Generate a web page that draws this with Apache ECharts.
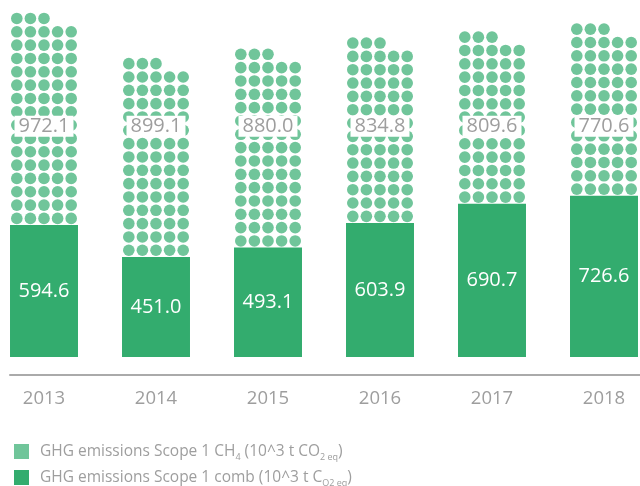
<!DOCTYPE html>
<html>
<head>
<meta charset="utf-8">
<script src="https://cdn.jsdelivr.net/npm/echarts@6/dist/echarts.min.js"></script>
<style>html,body{margin:0;padding:0;background:#fff;}#chart{width:640px;height:486px;}</style>
</head>
<body>
<div id="chart"></div>
<script>
const years = ['2013', '2014', '2015', '2016', '2017', '2018'];
const combValues = [594.6, 451.0, 493.1, 603.9, 690.7, 726.6];
const ch4Values = [972.1, 899.1, 880.0, 834.8, 809.6, 770.6];
const ch4Name = 'GHG emissions Scope 1 CH4 (10^3 t CO2 eq)';
const combName = 'GHG emissions Scope 1 comb (10^3 t CO2 eq)';

const FONT = '"Open Sans", sans-serif';
const DARK = '#33ac6e';
const LIGHT = '#70c59a';
const GRAY = '#9e9e9e';
const BAR_FRAC = 0.607;
const LABEL_LEVEL = 1040;

const chart = echarts.init(document.getElementById('chart'));

function renderDots(params, api) {
  const i = api.value(0), base = api.value(1), v = api.value(2);
  const p0 = api.coord([i, base]);
  const p1 = api.coord([i, base + v]);
  const bw = api.size([1, 0])[0] * BAR_FRAC;
  const pitchY = 13.33, cols = 5, pitchX = bw / cols, r = 5.8;
  const rows = Math.round((p0[1] - p1[1]) / pitchY);
  const children = [];
  for (let row = 0; row < rows; row++) {
    const count = row === rows - 1 ? 3 : cols;
    const cy = p0[1] - pitchY * (row + 0.5);
    for (let c = 0; c < count; c++) {
      children.push({
        type: 'circle',
        shape: { cx: p0[0] - bw / 2 + pitchX * (c + 0.5), cy: cy, r: r },
        style: { fill: LIGHT }
      });
    }
  }
  const ly = api.coord([i, LABEL_LEVEL])[1];
  children.push({
    type: 'text',
    z2: 10,
    style: {
      text: api.value(2).toFixed(1),
      x: p0[0], y: ly,
      align: 'center', verticalAlign: 'middle',
      fill: GRAY, font: '20px ' + FONT,
      backgroundColor: '#fff', padding: [1, 4, 0, 4]
    }
  });
  return { type: 'group', children: children };
}

const option = {
  animation: false,
  backgroundColor: '#fff',
  grid: [
    { left: -12, right: -20, top: 2, bottom: 129, outerBoundsMode: 'none', containLabel: false },
    { left: 10, right: -10, top: 2, bottom: 129, outerBoundsMode: 'none', containLabel: false }
  ],
  xAxis: [
    {
      type: 'category', data: years, gridIndex: 0, offset: 18,
      axisLine: { show: false, onZero: false }, axisTick: { show: false },
      axisLabel: { color: GRAY, fontSize: 18.5, fontFamily: FONT, margin: 14 }
    },
    {
      type: 'category', data: years, gridIndex: 1, offset: 18,
      axisLine: { show: true, onZero: false, lineStyle: { color: '#aaaaaa', width: 2 } },
      axisTick: { show: false }, axisLabel: { show: false }
    }
  ],
  yAxis: [
    { type: 'value', min: 0, max: 1600, gridIndex: 0, show: false },
    { type: 'value', min: 0, max: 1600, gridIndex: 1, show: false }
  ],
  legend: {
    orient: 'vertical', left: 9, top: 436, height: 80, itemWidth: 15, itemHeight: 15, itemGap: 5,
    icon: 'rect',
    data: [ch4Name, combName],
    formatter: function (name) {
      if (name === ch4Name) return '{a|GHG emissions Scope 1 CH}{s|4}{a| (10^3 t CO}{s|2 eq}{a|)}';
      return '{a|GHG emissions Scope 1 comb (10^3 t C}{s|O2 eq}{a|)}';
    },
    textStyle: {
      color: GRAY, padding: [0, 0, 0, 6],
      rich: {
        a: { fontSize: 15.5, fontFamily: FONT, color: GRAY, lineHeight: 16 },
        s: { fontSize: 9, fontFamily: FONT, color: GRAY, lineHeight: 16, padding: [12, 0, 0, 0] }
      }
    }
  },
  series: [
    {
      name: combName, type: 'bar', stack: 'total', barWidth: (BAR_FRAC * 100) + '%',
      data: combValues,
      itemStyle: { color: DARK },
      label: { show: true, position: 'inside', color: '#fff', fontSize: 20, fontFamily: FONT, formatter: function (p) { return p.value.toFixed(1); } }
    },
    {
      name: ch4Name, type: 'custom',
      itemStyle: { color: LIGHT },
      data: years.map(function (y, i) { return [i, combValues[i], ch4Values[i]]; }),
      encode: { x: 0, y: [1, 2] },
      renderItem: renderDots
    }
  ]
};
chart.setOption(option);
</script>
</body>
</html>
